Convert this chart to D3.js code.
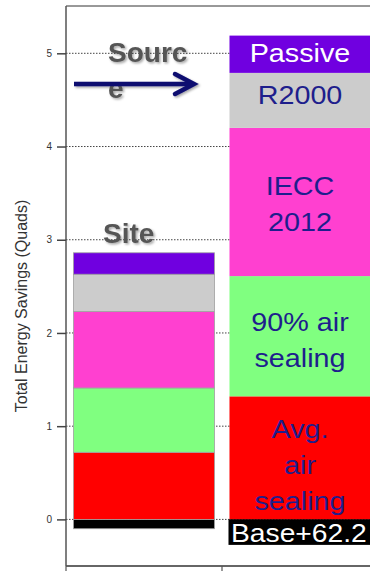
<!DOCTYPE html>
<html>
<head>
<meta charset="utf-8">
<script src="https://cdn.jsdelivr.net/npm/d3@7/dist/d3.min.js"></script>
<style>
  html, body { margin: 0; padding: 0; background: #fff; }
  svg { display: block; }
</style>
</head>
<body>
<svg id="chart" width="370" height="571"></svg>
<script>
// Savings per measure, stacked for site and source energy (quads)
const categories = ["Site", "Source"];
const measures = ["Base", "Avg. air sealing", "90% air sealing", "IECC 2012", "R2000", "Passive"];
const siteValues = [-0.10, 0.72, 0.69, 0.82, 0.40, 0.23];
const sourceValues = [-0.10, 1.32, 1.29, 1.59, 0.59, 0.40];
const yTicks = [0, 1, 2, 3, 4, 5];
const segmentColors = ["#000000", "#ff0000", "#80ff80", "#ff40d0", "#cccccc", "#7000e0"];
const sourceLabels = [[], ["Avg.", "air", "sealing"], ["90% air", "sealing"], ["IECC", "2012"], ["R2000"], ["Passive"]];
const baseLabel = "Base+62.2";

// Layout / styling
const W = 370, H = 571;
const plot = { left: 66, right: 378, top: 6.7, bottom: 566 };
const labelNudge = [0, 7, 4, 2, -5, -1];
const lineStep = 36;

const svg = d3.select("#chart");

const defs = svg.append("defs");
const shadow = defs.append("filter").attr("id", "shadow")
  .attr("x", "-20%").attr("y", "-20%").attr("width", "140%").attr("height", "140%");
shadow.append("feDropShadow").attr("dx", 1.5).attr("dy", 1.5)
  .attr("stdDeviation", 1).attr("flood-color", "#000").attr("flood-opacity", 0.35);
defs.append("clipPath").attr("id", "plotClip")
  .append("rect").attr("x", 0).attr("y", 0).attr("width", W).attr("height", H);

const y = d3.scaleLinear().domain([-0.5, 5.5]).range([plot.bottom, plot.top]);
const x = d3.scaleBand().domain(categories).range([plot.left, plot.right])
  .paddingInner(0.096).paddingOuter(0.048);

// Stack segments: base below zero, measures stacked upward
function stackSegments(values) {
  let acc = 0;
  return values.map((v, i) => {
    if (v < 0) return { i, y0: v, y1: 0 };
    const s = { i, y0: acc, y1: acc + v };
    acc += v;
    return s;
  });
}
const series = [
  { cat: "Site", segs: stackSegments(siteValues), stroke: "#a0a0a0" },
  { cat: "Source", segs: stackSegments(sourceValues), stroke: "none" }
];

const g = svg.append("g").attr("clip-path", "url(#plotClip)");

// Dotted gridlines
g.append("g").selectAll("line").data(yTicks).join("line")
  .attr("x1", plot.left).attr("x2", W)
  .attr("y1", d => y(d)).attr("y2", d => y(d))
  .attr("stroke", "#444").attr("stroke-width", 1)
  .attr("stroke-dasharray", "1.5,1.5");

// Stacked bars
series.forEach(s => {
  g.append("g").selectAll("rect").data(s.segs).join("rect")
    .attr("x", x(s.cat))
    .attr("width", x.bandwidth())
    .attr("y", d => y(d.y1))
    .attr("height", d => y(d.y0) - y(d.y1))
    .attr("fill", d => segmentColors[d.i])
    .attr("stroke", s.stroke)
    .attr("stroke-width", 0.8);
});

// Segment labels on the source bar
const src = series[1];
const cx = x("Source") + x.bandwidth() / 2;
const labelFont = "'Liberation Sans', Arial, sans-serif";
src.segs.forEach(seg => {
  const lines = sourceLabels[seg.i];
  if (!lines.length) return;
  const mid = (y(seg.y0) + y(seg.y1)) / 2 + labelNudge[seg.i];
  lines.forEach((t, k) => {
    const by = mid - (lines.length - 1) * lineStep / 2 + k * lineStep + 9;
    g.append("text")
      .attr("transform", `translate(${cx},${by}) scale(1.15,1)`)
      .attr("text-anchor", "middle")
      .attr("font-family", labelFont)
      .attr("font-size", 25)
      .attr("fill", measures[seg.i] === "Passive" ? "#ffffff" : "#1e1e8c")
      .text(t);
  });
});

// Base label box
const boxTop = y(0);
g.append("rect")
  .attr("x", x("Source") - 1).attr("y", boxTop)
  .attr("width", x.bandwidth() + 10).attr("height", 25.5)
  .attr("fill", "#000");
g.append("text")
  .attr("transform", `translate(${x("Source") + 1.5},${boxTop + 23}) scale(1.13,1)`)
  .attr("text-anchor", "start")
  .attr("font-family", labelFont)
  .attr("font-size", 25)
  .attr("fill", "#fff")
  .text(baseLabel);

// Frame and axes
g.append("line").attr("x1", plot.left).attr("x2", W)
  .attr("y1", 6).attr("y2", 6).attr("stroke", "#333").attr("stroke-width", 1);
g.append("line").attr("x1", plot.left).attr("x2", W)
  .attr("y1", plot.bottom).attr("y2", plot.bottom).attr("stroke", "#666").attr("stroke-width", 2);
g.append("line").attr("x1", plot.left).attr("x2", plot.left)
  .attr("y1", 6).attr("y2", plot.bottom).attr("stroke", "#555").attr("stroke-width", 1.5);

// Bottom ticks at band boundaries
const bandEdges = [plot.left, x("Source") - x.step() * x.paddingInner() / 2, plot.right];
g.append("g").selectAll("line").data(bandEdges).join("line")
  .attr("x1", d => d).attr("x2", d => d)
  .attr("y1", plot.bottom).attr("y2", H)
  .attr("stroke", "#555").attr("stroke-width", 1.2);

// Left axis ticks and labels
const yAxis = d3.axisLeft(y).tickValues(yTicks).tickSize(9).tickPadding(5).tickFormat(d3.format("d"));
const ya = svg.append("g").attr("transform", `translate(${plot.left},0)`).call(yAxis);
ya.select(".domain").remove();
ya.selectAll(".tick line").attr("stroke", "#444").attr("stroke-width", 1.5);
ya.selectAll(".tick text").attr("font-family", labelFont).attr("font-size", 10).attr("fill", "#333");

// Axis title
svg.append("text")
  .attr("transform", "translate(27,306) rotate(-90)")
  .attr("text-anchor", "middle")
  .attr("font-family", labelFont)
  .attr("font-size", 16)
  .attr("fill", "#333")
  .text("Total Energy Savings (Quads)");

// Annotations: "Source" with arrow, and "Site"
const ann = svg.append("g").attr("filter", "url(#shadow)");
const annFont = { family: labelFont, size: 28, fill: "#555555" };
[["Sourc", 108, 62], ["e", 108, 98], ["Site", 103, 243]].forEach(([t, ax, ay]) => {
  ann.append("text")
    .attr("x", ax).attr("y", ay)
    .attr("font-family", annFont.family)
    .attr("font-size", annFont.size)
    .attr("font-weight", "bold")
    .attr("fill", annFont.fill)
    .text(t);
});
ann.append("line").attr("x1", 74).attr("x2", 193).attr("y1", 84).attr("y2", 84)
  .attr("stroke", "#0b0b70").attr("stroke-width", 4.5);
ann.append("polyline")
  .attr("points", "175,74 194,84 175,94")
  .attr("fill", "none").attr("stroke", "#0b0b70").attr("stroke-width", 4.5)
  .attr("stroke-linecap", "round").attr("stroke-linejoin", "miter");
</script>
</body>
</html>
